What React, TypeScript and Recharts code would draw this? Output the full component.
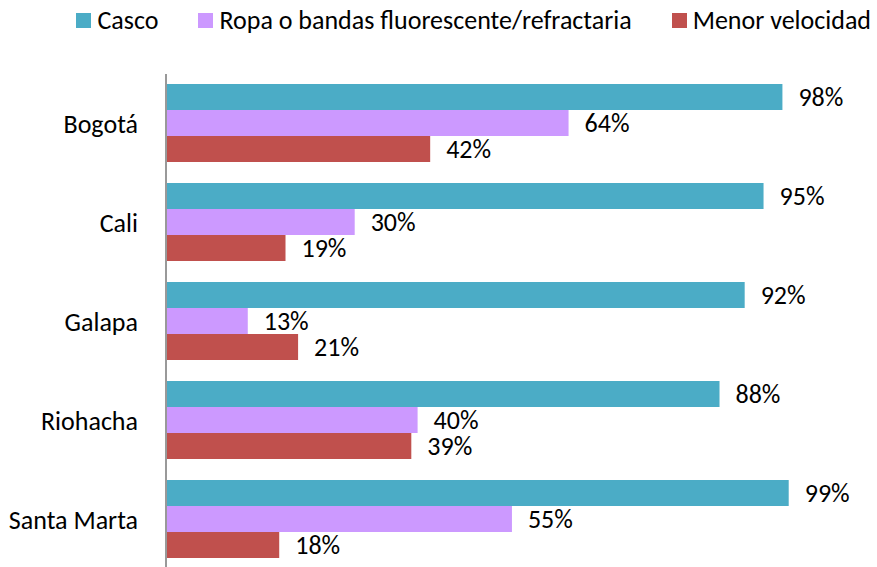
import { BarChart, Bar, XAxis, YAxis, LabelList } from "recharts";

const cities = ["Bogotá", "Cali", "Galapa", "Riohacha", "Santa Marta"];
const casco = [98, 95, 92, 88, 99];
const ropa = [64, 30, 13, 40, 55];
const velocidad = [42, 19, 21, 39, 18];

const SERIES = [
  { key: "casco", name: "Casco", color: "#4BACC6" },
  { key: "ropa", name: "Ropa o bandas fluorescente/refractaria", color: "#CC99FF" },
  { key: "velocidad", name: "Menor velocidad", color: "#C0504D" },
];

const data = cities.map((city, i) => ({
  city,
  casco: casco[i],
  ropa: ropa[i],
  velocidad: velocidad[i],
}));

const FONT = "Carlito, Calibri, Lato, 'Noto Sans', sans-serif";
const FS = 26;

function LegendBox() {
  return (
    <div
      style={{
        position: "absolute",
        top: 4,
        right: 6,
        display: "flex",
        fontFamily: FONT,
        fontSize: FS,
        color: "#000",
        lineHeight: "32px",
        whiteSpace: "nowrap",
      }}
    >
      {SERIES.map((s, i) => (
        <div key={s.key} style={{ display: "flex", alignItems: "center", marginLeft: i === 0 ? 0 : 40 }}>
          <span style={{ width: 15, height: 15, background: s.color, marginRight: 6, display: "inline-block" }} />
          <span>{s.name}</span>
        </div>
      ))}
    </div>
  );
}

export default function App() {
  return (
    <div style={{ position: "relative", width: 877, height: 567, overflow: "hidden", fontFamily: FONT }}>
      <style>{`body{margin:0}`}</style>
      <LegendBox />
      <BarChart
        width={877}
        height={569}
        data={data}
        layout="vertical"
        margin={{ top: 74, right: 82, bottom: 0, left: 0 }}
        barCategoryGap={10}
        barGap={0}
      >
        <XAxis type="number" domain={[0, 100]} hide />
        <YAxis
          type="category"
          dataKey="city"
          width={166}
          tickLine={false}
          axisLine={{ stroke: "#999999", strokeWidth: 2 }}
          tickMargin={22}
          tick={{ fontSize: FS, fill: "#000", fontFamily: FONT }}
        />
        {SERIES.map((s) => (
          <Bar key={s.key} dataKey={s.key} name={s.name} fill={s.color} isAnimationActive={false}>
            <LabelList
              dataKey={s.key}
              position="right"
              offset={16}
              formatter={(v: number) => `${v}%`}
              style={{ fontSize: FS, fill: "#000", fontFamily: FONT }}
            />
          </Bar>
        ))}
      </BarChart>
    </div>
  );
}
